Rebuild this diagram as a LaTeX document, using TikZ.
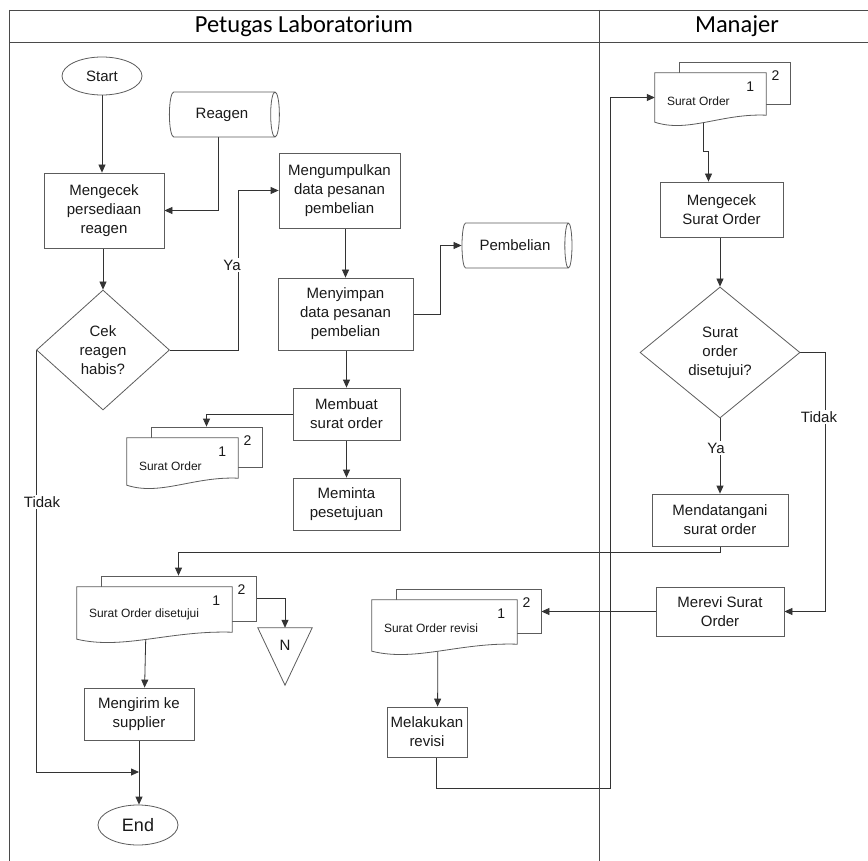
\documentclass[tikz,border=0pt]{standalone}
\usepackage{fontspec}
\setmainfont{Liberation Sans}
\newfontfamily\headfont{Carlito}
\usetikzlibrary{shapes.geometric,arrows.meta,calc}

\definecolor{shapegray}{HTML}{5C5C5C}
\definecolor{linecol}{HTML}{333333}
\definecolor{textcol}{HTML}{1A1A1A}
\definecolor{framecol}{HTML}{4A4A4A}

\pgfdeclarelayer{conn}
\pgfsetlayers{conn,main}

% stacked two-page document: name, centre of front page, width, height, caption
\newcommand\sdoc[5]{%
  \node[docback, minimum width=#3pt, minimum height={#4pt-7pt}] (#1b) at ($#2+(24,-14.5)$) {};
  \node[inner sep=0pt, minimum width=#3pt, minimum height=#4pt] (#1) at #2 {};
  \filldraw[shp line] (#1.north west) -- (#1.north east) -- ($(#1.south east)+(0,-7)$)
    .. controls ($(#1.south west)!0.6!(#1.south east)+(0,-9)$) and ($(#1.south west)!0.3!(#1.south east)+(0,11)$) .. (#1.south west) -- cycle;
  \node[doclbl, anchor=west] at ($(#1.north west)+(12,28)$) {#5};
  \node[docnum] at ($(#1.north east)+(-16,14)$) {1};
  \node[docnum] at ($(#1b.north east)+(-15,14)$) {2};
}

\begin{document}
\begin{tikzpicture}[x=1pt,y=-1pt,
  font=\fontsize{15}{19}\selectfont,
  shp line/.style={draw=shapegray, line width=0.8pt, fill=white},
  shp/.style={shp line, text=textcol},
  proc/.style={shp, rectangle, align=center, inner sep=2pt},
  term/.style={shp, ellipse, minimum width=80pt, minimum height=38pt, inner sep=0pt},
  store/.style={shp, cylinder, shape aspect=0.65, minimum width=45pt, minimum height=110pt, inner sep=0pt},
  decide/.style={shp, diamond, align=center, inner sep=0pt},
  docback/.style={shp line, rectangle, inner sep=0pt},
  doclbl/.style={text=textcol, inner sep=0pt, font=\fontsize{12}{14}\selectfont},
  docnum/.style={text=textcol, inner sep=0pt, font=\fontsize{14}{16}\selectfont},
  flow/.style={draw=linecol, line width=0.8pt, -{Triangle[length=8pt,width=7pt]}},
  plain/.style={draw=linecol, line width=0.8pt},
  lbl/.style={fill=white, inner sep=1.5pt, text=textcol},
  frame/.style={draw=framecol, line width=0.9pt},
  head/.style={text=black, font=\headfont\fontsize{24.5}{28}\selectfont}
]
\useasboundingbox (0,0) rectangle (868,861);

% swimlane frame
\draw[frame] (9,10) -- (868,10);
\draw[frame] (9,42) -- (868,42);
\draw[frame] (9,10) -- (9,861);
\draw[frame] (599,10) -- (599,861);
\node[head] (laneA) at (304,26) {Petugas Laboratorium};
\node[head] (laneB) at (737,26) {Manajer};

% laboratory staff lane
\node[term] (start) at (102,76) {Start};
\node[store] (reagen) at (222,114.5) {Reagen};
\node[proc, minimum width=120pt, minimum height=75pt] (cek) at (104,210.5) {Mengecek\\persediaan\\reagen};
\node[decide, minimum width=133pt, minimum height=120pt] (habis) at (103,350) {Cek\\reagen\\habis?};
\node[proc, minimum width=121pt, minimum height=75pt] (kumpul) at (339.5,190.5) {Mengumpulkan\\data pesanan\\pembelian};
\node[store] (pemb) at (515,245.5) {Pembelian};
\node[proc, minimum width=135pt, minimum height=72pt] (simpan) at (345.5,314) {Menyimpan\\data pesanan\\pembelian};
\node[proc, minimum width=107pt, minimum height=52pt] (buat) at (346.5,414) {Membuat\\surat order};
\node[proc, minimum width=107pt, minimum height=52pt] (minta) at (346.5,504) {Meminta\\pesetujuan};
\sdoc{docA}{(182.5,461.5)}{111}{47}{Surat Order}
\sdoc{docB}{(154.5,613)}{155}{52}{Surat Order disetujui}
\node[inner sep=0pt, minimum width=54pt, minimum height=57pt] (tri) at (285,656.5) {};
\filldraw[shp line] (tri.north west) -- (tri.north east) -- (tri.south) -- cycle;
\node[text=textcol] (triN) at ($(tri.north)+(0,18)$) {N};
\node[proc, minimum width=110pt, minimum height=52pt] (kirim) at (139,714) {Mengirim ke\\supplier};
\node[term, minimum height=40pt, font=\fontsize{18}{20}\selectfont] (end) at (138,825) {End};
\sdoc{docC}{(444.5,625.5)}{145}{51}{Surat Order revisi}
\node[proc, minimum width=80pt, minimum height=50pt] (revisi) at (427,732) {Melakukan\\revisi};

% manager lane
\sdoc{docD}{(710.5,97.5)}{111}{49}{Surat Order}
\node[proc, minimum width=123pt, minimum height=55pt] (cekso) at (721.5,209.5) {Mengecek\\Surat Order};
\node[decide, minimum width=160pt, minimum height=131pt] (setuju) at (720,352.5) {Surat\\order\\disetujui?};
\node[proc, minimum width=136pt, minimum height=52pt] (tanda) at (720,520) {Mendatangani\\surat order};
\node[proc, minimum width=128pt, minimum height=49pt] (merevi) at (720,611.5) {Merevi Surat\\Order};

% branch labels
\node[lbl] (yaA) at (232,265) {Ya};
\node[lbl] (tidakA) at (42,502) {Tidak};
\node[lbl] (yaB) at (716,448) {Ya};
\node[lbl] (tidakB) at (819,417) {Tidak};

\begin{pgfonlayer}{conn}
\fill[white] (0,0) rectangle (868,861);
\draw[flow] (start.south) -- (start.south |- cek.north);
\draw[flow] ($(reagen.south)+(-4,0)$) |- (cek.east);
\draw[flow] (habis.north |- cek.south) -- (habis.north);
\draw[flow] (habis.east) -- ++(68,0) |- (kumpul.west);
\coordinate (join) at (kirim.south |- 0,772);
\draw[flow] (habis.west) |- (join);
\draw[flow] (simpan.north |- kumpul.south) -- (simpan.north);
\draw[flow] (simpan.east) -- ++(27,0) |- (pemb.west);
\draw[flow] (buat.north |- simpan.south) -- (buat.north);
\draw[flow] (buat.west) -| (docAb.north);
\draw[flow] (buat.south) -- (minta.north);
\draw[flow] ($(docB.south west)+(69,-4)$) -- ($(kirim.north west)+(61,0)$);
\draw[flow] (docBb.east) -| (tri.north);
\draw[flow] (kirim.south) -- (kirim.south |- end.north);
\draw[flow] ($(docC.south west)+(66,-4)$) -- ($(revisi.north west)+(51,0)$);
\draw[flow] ($(revisi.south west)+(50,0)$) -- ++(0,31) -| ($(docD.west)+(-44,0)$) -- (docD.west);
\draw[flow] ($(docD.south)+(-7,-5)$) |- ($(cekso.north)+(-13,-30)$) -- ($(cekso.north)+(-13,0)$);
\draw[flow] (cekso.south -| setuju.north) -- (setuju.north);
\draw[flow] (setuju.south) -- (tanda.north);
\draw[flow] (setuju.east) -- ++(25,0) |- (merevi.east);
\draw[flow] (tanda.south) -- ++(0,6) -| (docBb.north);
\draw[flow] (merevi.west) -- (merevi.west -| docCb.east);
\end{pgfonlayer}
\end{tikzpicture}
\end{document}
